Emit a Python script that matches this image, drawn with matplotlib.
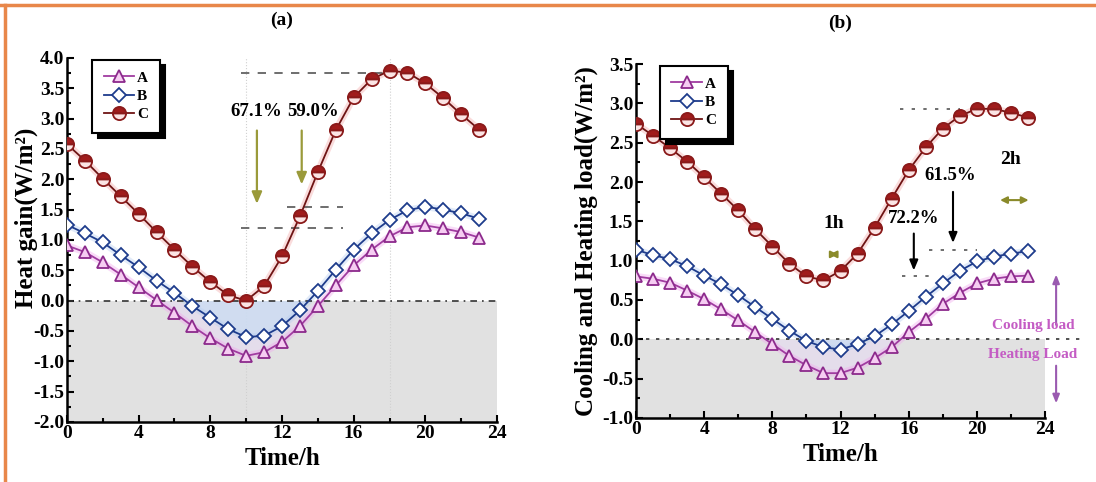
import matplotlib
matplotlib.use("Agg")
import matplotlib.pyplot as plt
import numpy as np
from matplotlib.ticker import MultipleLocator
from matplotlib.lines import Line2D

hours = list(range(24))

# Panel (a): Heat gain (W/m2)
a_A = [0.91, 0.80, 0.63, 0.43, 0.22, 0.01, -0.20, -0.42, -0.62, -0.79, -0.91, -0.85,
       -0.68, -0.42, -0.09, 0.25, 0.58, 0.84, 1.06, 1.21, 1.24, 1.19, 1.13, 1.04]
a_B = [1.25, 1.11, 0.96, 0.75, 0.55, 0.33, 0.13, -0.09, -0.28, -0.47, -0.60, -0.58,
       -0.42, -0.16, 0.16, 0.51, 0.84, 1.11, 1.33, 1.49, 1.55, 1.50, 1.44, 1.35]
a_C = [2.58, 2.31, 2.01, 1.72, 1.43, 1.13, 0.84, 0.56, 0.31, 0.09, 0.00, 0.24,
       0.73, 1.39, 2.12, 2.81, 3.35, 3.65, 3.79, 3.76, 3.58, 3.34, 3.07, 2.82]

# Panel (b): Cooling and heating load (W/m2)
b_A = [0.80, 0.77, 0.72, 0.62, 0.51, 0.38, 0.24, 0.09, -0.06, -0.21, -0.33, -0.43,
       -0.43, -0.36, -0.24, -0.10, 0.09, 0.26, 0.45, 0.59, 0.71, 0.77, 0.80, 0.81]
b_B = [1.14, 1.07, 1.02, 0.93, 0.81, 0.70, 0.56, 0.41, 0.26, 0.11, -0.02, -0.10,
       -0.13, -0.06, 0.04, 0.19, 0.36, 0.54, 0.71, 0.87, 0.99, 1.05, 1.09, 1.12]
b_C = [2.74, 2.59, 2.43, 2.26, 2.06, 1.85, 1.64, 1.40, 1.18, 0.96, 0.80, 0.75,
       0.87, 1.09, 1.42, 1.79, 2.15, 2.44, 2.68, 2.84, 2.93, 2.93, 2.88, 2.82]

labels = ["A", "B", "C"]
xticks = [0, 4, 8, 12, 16, 20, 24]

plt.rcParams['font.family'] = ['Liberation Serif', 'DejaVu Serif']
plt.rcParams['font.weight'] = 'bold'

fig = plt.figure(figsize=(10.96, 4.82), dpi=100)

# orange frame
fig.add_artist(Line2D([0, 1], [0.990, 0.990], transform=fig.transFigure, color='#e8874a', lw=2.5))
fig.add_artist(Line2D([0.0045, 0.0045], [0, 0.990], transform=fig.transFigure, color='#e8874a', lw=2.5))

styles = {
    "A": dict(color='#a03ca0', marker='^', mfc='#f6cdf2', mec='#8c2a8c', ms=9, lw=1.3, glow='#f2a8ee'),
    "B": dict(color='#1e3c8c', marker='D', mfc='white', mec='#1e3c8c', ms=7.5, lw=1.3, glow='#b8cff0'),
    "C": dict(color='#6e1414', marker='o', mfc='#a01c1c', mec='#8a1a1a', ms=9.5, lw=1.3, glow='#f4a8a8'),
}


def draw_panel(ax, data, ylim, yticks, ylabel):
    x = np.array(hours)
    ax.fill_between([0, 24], ylim[0], 0, color='#e1e1e1', zorder=0, lw=0)
    A, B, C = [np.array(d) for d in data]
    ax.fill_between(x, B, 0, where=B < 0, interpolate=True, color='#cddcf3', alpha=0.85, zorder=1, lw=0)
    ax.fill_between(x, A, np.minimum(B, 0), where=A < np.minimum(B, 0), interpolate=True,
                    color='#e6dcf0', alpha=0.7, zorder=1, lw=0)
    for lab, y in zip(labels, [A, B, C]):
        s = styles[lab]
        ax.plot(x, y, color=s['glow'], lw=5, alpha=0.4, zorder=2, solid_capstyle='round')
    for lab, y in zip(labels, [A, B, C]):
        s = styles[lab]
        kw = dict(color=s['color'], lw=s['lw'], marker=s['marker'], ms=s['ms'],
                  mfc=s['mfc'], mec=s['mec'], mew=1.3, zorder=3, label=lab)
        if lab == 'C':
            kw.update(fillstyle='top', markerfacecoloralt='#fbe4e4')
        ax.plot(x, y, **kw)
    ax.set_xlim(0, 24)
    ax.set_ylim(*ylim)
    ax.set_xticks(xticks)
    ax.set_yticks(yticks)
    ax.set_yticklabels([f"{v:.1f}" for v in yticks])
    ax.xaxis.set_minor_locator(MultipleLocator(2))
    ax.yaxis.set_minor_locator(MultipleLocator(0.25))
    ax.tick_params(which='both', direction='in', labelsize=14, width=1.5)
    ax.tick_params(which='major', length=5, pad=2)
    ax.tick_params(which='minor', length=3)
    for sp in ['top', 'right']:
        ax.spines[sp].set_visible(False)
    for sp in ['left', 'bottom']:
        ax.spines[sp].set_linewidth(1.8)
    for t in ax.get_xticklabels() + ax.get_yticklabels():
        t.set_fontweight('bold')
    ax.set_xlabel('Time/h', fontsize=18, fontweight='bold', labelpad=4)
    ax.set_ylabel(ylabel, fontsize=18, fontweight='bold', labelpad=3)
    leg = ax.legend(loc='upper left', bbox_to_anchor=(0.055, 1.0), frameon=True, fancybox=False,
                    shadow={'color': 'black', 'alpha': 1, 'ox': 4, 'oy': -4},
                    edgecolor='black', fontsize=11, handlelength=2.0, handletextpad=0.2,
                    borderpad=0.75, labelspacing=0.3, borderaxespad=0.1)
    leg.get_frame().set_linewidth(1.5)
    for t in leg.get_texts():
        t.set_fontweight('bold')


# Panel (a)
ax1 = fig.add_axes([0.0611, 0.1245, 0.3924, 0.7552])
draw_panel(ax1, [a_A, a_B, a_C], (-2.0, 4.0), [-2.0, -1.5, -1.0, -0.5, 0.0, 0.5, 1.0, 1.5, 2.0, 2.5, 3.0, 3.5, 4.0],
           'Heat gain(W/m²)')
ax1.yaxis.set_label_coords(-0.068, 0.56)
ax1.plot([0, 24], [0, 0], color='#333333', lw=1.2, ls=(0, (4, 3, 1, 3)), zorder=2.5)
for xv in [10, 18]:
    ax1.axvline(xv, color='#d0d0d0', lw=0.8, ls=':', zorder=0.5)
ax1.plot([9.7, 17.8], [3.76, 3.76], color='#555555', lw=1.2, ls=(0, (5, 5)), zorder=2)
ax1.plot([12.3, 15.4], [1.55, 1.55], color='#555555', lw=1.2, ls=(0, (5, 5)), zorder=2)
ax1.plot([9.7, 15.4], [1.19, 1.19], color='#555555', lw=1.2, ls=(0, (5, 5)), zorder=2)
arrow_kw = dict(arrowstyle='-|>,head_width=0.3,head_length=0.7', color='#9a9a3a', lw=1.6)
ax1.annotate('', xy=(10.6, 1.55), xytext=(10.6, 2.85), arrowprops=arrow_kw)
ax1.annotate('', xy=(13.1, 1.87), xytext=(13.1, 2.85), arrowprops=arrow_kw)
ax1.text(10.55, 3.11, '67.1%', ha='center', va='center', fontsize=13.5, fontweight='bold')
ax1.text(13.75, 3.11, '59.0%', ha='center', va='center', fontsize=13.5, fontweight='bold')
ax1.set_title('(a)', fontsize=14, fontweight='bold', pad=24)

# Panel (b)
ax2 = fig.add_axes([0.5803, 0.1328, 0.3732, 0.7344])
draw_panel(ax2, [b_A, b_B, b_C], (-1.0, 3.5), [-1.0, -0.5, 0.0, 0.5, 1.0, 1.5, 2.0, 2.5, 3.0, 3.5],
           'Cooling and Heating load(W/m²)')
ax2.plot([0, 26.4], [0, 0], color='#333333', lw=1.2, ls=(0, (2, 4)), zorder=2.5, clip_on=False)
ax2.plot([15.5, 19.0], [2.93, 2.93], color='#555555', lw=1.2, ls=(0, (2, 5)), zorder=2)
ax2.plot([17.2, 20.0], [1.13, 1.13], color='#555555', lw=1.2, ls=(0, (2, 5)), zorder=2)
ax2.plot([15.6, 17.3], [0.80, 0.80], color='#555555', lw=1.2, ls=(0, (2, 5)), zorder=2)
barrow = dict(arrowstyle='-|>,head_width=0.25,head_length=0.6', color='black', lw=1.5)
ax2.annotate('', xy=(16.3, 0.84), xytext=(16.3, 1.38), arrowprops=barrow)
ax2.annotate('', xy=(18.6, 1.19), xytext=(18.6, 1.91), arrowprops=barrow)
ax2.text(16.3, 1.53, '72.2%', ha='center', va='center', fontsize=13.5, fontweight='bold')
ax2.text(18.45, 2.08, '61.5%', ha='center', va='center', fontsize=13.5, fontweight='bold')
ax2.text(11.6, 1.47, '1h', ha='center', va='center', fontsize=14, fontweight='bold')
ax2.text(22.0, 2.29, '2h', ha='center', va='center', fontsize=14, fontweight='bold')
olive = dict(arrowstyle='<|-|>,head_width=0.2,head_length=0.4', color='#8a8a2a', lw=1.5)
ax2.annotate('', xy=(11.2, 1.08), xytext=(12.0, 1.08), arrowprops=olive)
ax2.annotate('', xy=(21.2, 1.77), xytext=(23.2, 1.77), arrowprops=olive)
parrow = dict(arrowstyle='-|>,head_width=0.2,head_length=0.5', color='#9a5ab0', lw=1.5)
ax2.annotate('', xy=(24.65, 0.86), xytext=(24.65, 0.15), arrowprops=parrow, annotation_clip=False)
ax2.annotate('', xy=(24.65, -0.85), xytext=(24.65, -0.30), arrowprops=parrow, annotation_clip=False)
ax2.text(23.3, 0.17, 'Cooling load', ha='center', va='center', fontsize=11,
         fontweight='bold', color='#c45cc4', clip_on=False)
ax2.text(23.3, -0.19, 'Heating Load', ha='center', va='center', fontsize=11,
         fontweight='bold', color='#c45cc4', clip_on=False)
ax2.set_title('(b)', fontsize=14, fontweight='bold', pad=26)

fig.savefig('out.png', dpi=100)
